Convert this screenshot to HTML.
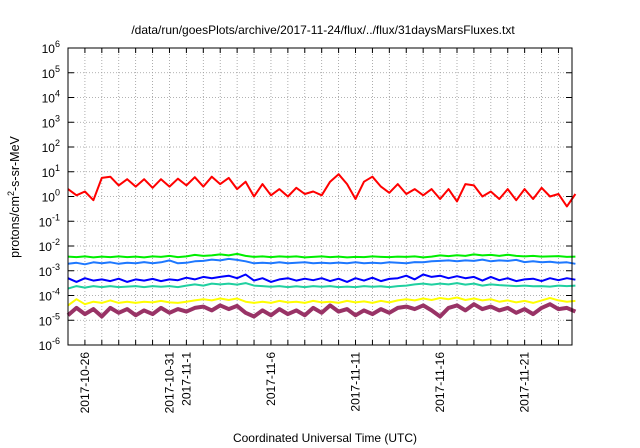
<!DOCTYPE html>
<html><head><meta charset="utf-8"><style>
body{margin:0;background:#fff;}
svg{display:block;font-family:"Liberation Sans",sans-serif;}
</style></head><body>
<svg id="chart" width="640" height="448" viewBox="0 0 640 448">
<text x="323" y="34" font-size="12" text-anchor="middle">/data/run/goesPlots/archive/2017-11-24/flux/../flux/31daysMarsFluxes.txt</text>
<text transform="translate(19,197) rotate(-90)" font-size="12.5" text-anchor="middle">protons/cm<tspan dy="-5" font-size="9">2</tspan><tspan dy="5">-s-sr-MeV</tspan></text>
<text x="325" y="442" font-size="12" text-anchor="middle">Coordinated Universal Time (UTC)</text>
<g id="grid"></g><g id="series"></g><g id="axes"></g>
</svg>
<script>
const days = [];
for (let i = 0; i <= 60; i++) days.push(i * 0.5);
const redLog = [0.3,0.05,0.2,-0.15,0.75,0.8,0.45,0.7,0.4,0.7,0.35,0.7,0.4,0.72,0.45,0.78,0.4,0.8,0.5,0.75,0.3,0.6,0.0,0.5,0.05,0.3,0.0,0.35,0.1,0.2,0.05,0.6,0.9,0.5,-0.1,0.6,0.8,0.4,0.15,0.5,0.1,0.3,0.05,0.3,-0.1,0.3,-0.2,0.5,0.45,0.0,0.2,-0.1,0.3,-0.15,0.3,-0.1,0.35,0.0,0.1,-0.4,0.1];
const greenLog = [-2.43,-2.45,-2.42,-2.46,-2.43,-2.45,-2.42,-2.45,-2.43,-2.46,-2.42,-2.44,-2.4,-2.45,-2.42,-2.36,-2.4,-2.38,-2.34,-2.38,-2.32,-2.4,-2.44,-2.42,-2.45,-2.42,-2.44,-2.42,-2.46,-2.44,-2.42,-2.45,-2.43,-2.46,-2.44,-2.45,-2.42,-2.44,-2.45,-2.43,-2.44,-2.42,-2.46,-2.43,-2.38,-2.41,-2.37,-2.4,-2.34,-2.38,-2.36,-2.4,-2.35,-2.4,-2.42,-2.4,-2.43,-2.42,-2.41,-2.44,-2.43];
const lblueLog = [-2.72,-2.68,-2.74,-2.66,-2.7,-2.66,-2.72,-2.68,-2.7,-2.65,-2.7,-2.66,-2.58,-2.7,-2.68,-2.62,-2.6,-2.55,-2.58,-2.52,-2.56,-2.62,-2.7,-2.68,-2.7,-2.66,-2.7,-2.68,-2.66,-2.7,-2.68,-2.7,-2.67,-2.7,-2.66,-2.7,-2.68,-2.7,-2.66,-2.68,-2.7,-2.65,-2.66,-2.62,-2.6,-2.58,-2.62,-2.58,-2.6,-2.55,-2.62,-2.58,-2.6,-2.56,-2.65,-2.62,-2.66,-2.64,-2.68,-2.66,-2.72];
const blueLog = [-3.3,-3.45,-3.3,-3.4,-3.35,-3.42,-3.32,-3.45,-3.35,-3.4,-3.33,-3.42,-3.35,-3.38,-3.28,-3.35,-3.25,-3.3,-3.25,-3.2,-3.3,-3.15,-3.4,-3.3,-3.45,-3.35,-3.3,-3.4,-3.32,-3.38,-3.3,-3.42,-3.32,-3.45,-3.3,-3.4,-3.28,-3.42,-3.33,-3.3,-3.2,-3.35,-3.15,-3.25,-3.2,-3.3,-3.22,-3.3,-3.25,-3.4,-3.25,-3.38,-3.3,-3.42,-3.35,-3.32,-3.42,-3.3,-3.38,-3.3,-3.36];
const tealLog = [-3.72,-3.62,-3.68,-3.62,-3.66,-3.62,-3.66,-3.64,-3.62,-3.66,-3.62,-3.65,-3.62,-3.66,-3.6,-3.55,-3.6,-3.52,-3.55,-3.52,-3.56,-3.5,-3.6,-3.62,-3.65,-3.62,-3.66,-3.63,-3.66,-3.62,-3.65,-3.62,-3.66,-3.64,-3.66,-3.62,-3.65,-3.63,-3.66,-3.62,-3.6,-3.55,-3.52,-3.56,-3.52,-3.55,-3.5,-3.56,-3.52,-3.6,-3.55,-3.58,-3.6,-3.62,-3.6,-3.63,-3.62,-3.64,-3.6,-3.62,-3.6];
const yellowLog = [-4.4,-4.15,-4.35,-4.25,-4.3,-4.2,-4.3,-4.25,-4.3,-4.25,-4.28,-4.22,-4.28,-4.3,-4.25,-4.2,-4.15,-4.2,-4.12,-4.18,-4.12,-4.25,-4.3,-4.25,-4.3,-4.22,-4.28,-4.25,-4.3,-4.22,-4.28,-4.25,-4.3,-4.22,-4.28,-4.24,-4.3,-4.22,-4.28,-4.2,-4.15,-4.2,-4.12,-4.18,-4.1,-4.15,-4.08,-4.18,-4.12,-4.2,-4.15,-4.25,-4.2,-4.28,-4.22,-4.3,-4.2,-4.1,-4.2,-4.25,-4.22];
const purpleLog = [-4.8,-4.5,-4.75,-4.55,-4.85,-4.5,-4.7,-4.55,-4.8,-4.6,-4.75,-4.5,-4.7,-4.55,-4.65,-4.5,-4.45,-4.6,-4.4,-4.55,-4.42,-4.7,-4.85,-4.6,-4.8,-4.55,-4.75,-4.6,-4.8,-4.5,-4.7,-4.4,-4.65,-4.55,-4.8,-4.6,-4.75,-4.55,-4.7,-4.5,-4.45,-4.55,-4.4,-4.6,-4.85,-4.5,-4.4,-4.6,-4.35,-4.55,-4.45,-4.6,-4.5,-4.7,-4.55,-4.75,-4.5,-4.35,-4.55,-4.5,-4.65];
const yTickExp = [-6,-5,-4,-3,-2,-1,0,1,2,3,4,5,6];
const xTickDays = [1,6,7,12,17,22,27];
const xTickLabels = ["2017-10-26","2017-10-31","2017-11-1","2017-11-6","2017-11-11","2017-11-16","2017-11-21"];

const L=68,R=572,T=48,B=345,D0=0,D1=29.8;
const xs=d=>L+(d-D0)/(D1-D0)*(R-L);
const ys=e=>B-(e+6)/12*(B-T);
const NS="http://www.w3.org/2000/svg";
function mk(tag,parent,attrs){const el=document.createElementNS(NS,tag);for(const k in attrs)el.setAttribute(k,attrs[k]);parent.appendChild(el);return el;}
const grid=document.getElementById('grid'),ser=document.getElementById('series'),ax=document.getElementById('axes');
for(let d=1;d<D1;d++){
  const g=mk('line',grid,{x1:xs(d),x2:xs(d),y1:T,y2:B,stroke:'#999','stroke-dasharray':'1,2','stroke-width':0.8});
  
  
  const t1=mk('line',ax,{x1:xs(d),x2:xs(d),y1:B,y2:B-5,stroke:'#000'});
  
  
  const t2=mk('line',ax,{x1:xs(d),x2:xs(d),y1:T,y2:T+5,stroke:'#000'});
  
  
}
yTickExp.forEach(e=>{
  const y=ys(e);
  if(e>-6&&e<6){const g=mk('line',grid,{x1:L,x2:R,y1:y,y2:y,stroke:'#999','stroke-dasharray':'1,2','stroke-width':0.8});
  
  }
  const t=mk('line',ax,{x1:L,x2:L+6,y1:y,y2:y,stroke:'#000'});
  
  
  const t2=mk('line',ax,{x1:R,x2:R-6,y1:y,y2:y,stroke:'#000'});
  
  
  const tx=mk('text',ax,{x:L-8,y:y+5,'font-size':12,'text-anchor':'end'});
  
  
  tx.innerHTML='10<tspan dy="-6" font-size="9">'+e+'</tspan>';
});
xTickDays.forEach((d,i)=>{
  const x=xs(d)+4;
  const tx=mk('text',ax,{transform:`translate(${x},352) rotate(-90)`,'font-size':12,'text-anchor':'end'});
  
  
  tx.textContent=xTickLabels[i];
});
const series=[[yellowLog,'#ffff00','yellow'],[purpleLog,'#993366','purple'],[tealLog,'#20d0a0','teal'],[blueLog,'#0000ff','blue'],[lblueLog,'#1e78ff','light-blue'],[greenLog,'#00ee00','green'],[redLog,'#ff0000','red']];
series.forEach(([arr,c,n])=>{
  const p=mk('polyline',ser,{points:arr.map((v,i)=>xs(days[i]).toFixed(1)+','+ys(v).toFixed(1)).join(' '),fill:'none',stroke:c,'stroke-width':n==='purple'?4:2,'stroke-linejoin':'round'});
  
  
});
const fr=mk('rect',ax,{x:L,y:T,width:R-L,height:B-T,fill:'none',stroke:'#000','stroke-width':1});


</script>
</body></html>
